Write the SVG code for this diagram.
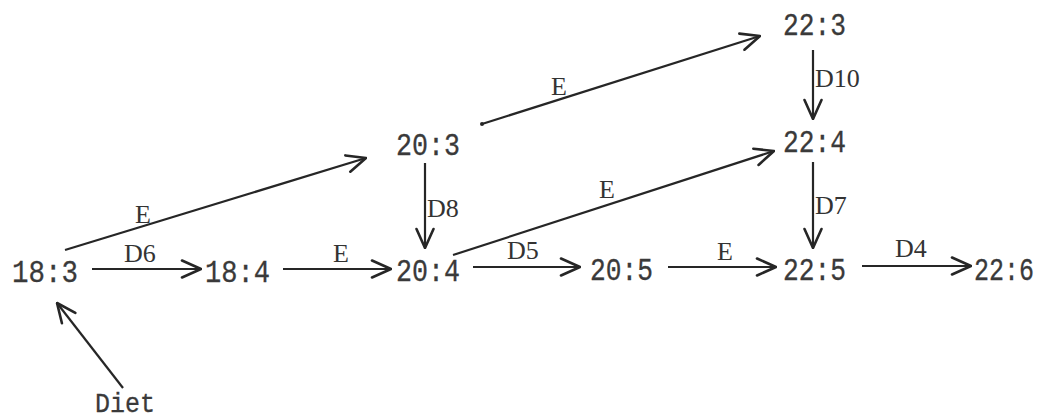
<svg xmlns="http://www.w3.org/2000/svg" width="1049" height="419" viewBox="0 0 1049 419">
<style>
.n{font-family:"Liberation Mono","DejaVu Sans Mono",monospace;font-size:32px;fill:#3a3a3a;stroke:#3a3a3a;stroke-width:0.3}
.l{font-family:"Liberation Serif","DejaVu Serif",serif;font-size:26px;fill:#333}
.c{stroke:#262626;stroke-width:2.2;fill:none;marker-end:url(#ah)}
</style>
<defs>
<marker id="ah" viewBox="0 0 22 20" refX="21" refY="10" markerWidth="22" markerHeight="20" markerUnits="userSpaceOnUse" orient="auto">
<path d="M2,1.5 L21,10 L2,18.5" fill="none" stroke="#262626" stroke-width="2.6" stroke-linecap="round" stroke-linejoin="round"/>
</marker>
</defs>
<rect width="1049" height="419" fill="#fff"/>
<g id="connectors">
<line class="c" x1="92" y1="269" x2="201" y2="269"/>
<line class="c" x1="283" y1="269" x2="391" y2="269"/>
<line class="c" x1="473" y1="267" x2="580" y2="267"/>
<line class="c" x1="668" y1="267" x2="776" y2="267"/>
<line class="c" x1="862" y1="266" x2="971" y2="266"/>
<line class="c" x1="65" y1="250" x2="366" y2="158"/>
<line class="c" x1="482" y1="124" x2="760" y2="36"/>
<circle cx="482" cy="124" r="2" fill="#262626"/>
<line class="c" x1="453" y1="255" x2="774" y2="151"/>
<line class="c" x1="425" y1="163" x2="425" y2="248"/>
<line class="c" x1="813" y1="50" x2="813" y2="119"/>
<line class="c" x1="813" y1="162" x2="813" y2="248"/>
<line class="c" x1="123" y1="388" x2="57" y2="303"/>
<text class="l" x="124" y="262">D6</text>
<text class="l" x="333" y="262">E</text>
<text class="l" x="507" y="259">D5</text>
<text class="l" x="717" y="260">E</text>
<text class="l" x="895" y="257">D4</text>
<text class="l" x="551" y="95">E</text>
<text class="l" x="599" y="198">E</text>
<text class="l" x="135" y="223">E</text>
<text class="l" x="427" y="217">D8</text>
<text class="l" x="815" y="87">D10</text>
<text class="l" x="815" y="214">D7</text>
</g>
<g id="n183"><text class="n" x="12" y="282" textLength="66" lengthAdjust="spacingAndGlyphs">18:3</text></g>
<g id="n184"><text class="n" x="205" y="282" textLength="65" lengthAdjust="spacingAndGlyphs">18:4</text></g>
<g id="n204"><text class="n" x="396" y="281" textLength="64" lengthAdjust="spacingAndGlyphs">20:4</text></g>
<g id="n203"><text class="n" x="396" y="155" textLength="64" lengthAdjust="spacingAndGlyphs">20:3</text></g>
<g id="n205"><text class="n" x="590" y="280" textLength="63" lengthAdjust="spacingAndGlyphs">20:5</text></g>
<g id="n225"><text class="n" x="783" y="280" textLength="63" lengthAdjust="spacingAndGlyphs">22:5</text></g>
<g id="n226"><text class="n" x="974" y="280" textLength="60" lengthAdjust="spacingAndGlyphs">22:6</text></g>
<g id="n224"><text class="n" x="783" y="152" textLength="63" lengthAdjust="spacingAndGlyphs">22:4</text></g>
<g id="n223"><text class="n" x="783" y="35" textLength="63" lengthAdjust="spacingAndGlyphs">22:3</text></g>
<g id="diet"><text class="n" x="95" y="412" style="font-size:28px" textLength="60" lengthAdjust="spacingAndGlyphs">Diet</text></g>
</svg>
